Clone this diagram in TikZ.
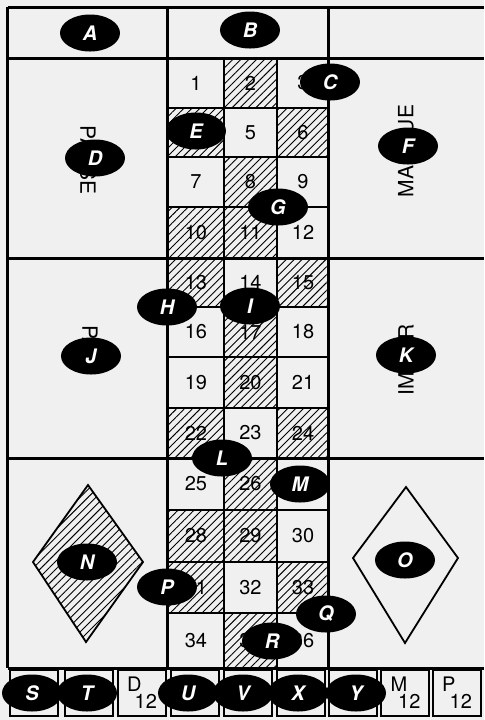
\documentclass[tikz,border=0pt]{standalone}
\usepackage{fontspec}
\setsansfont{TeX Gyre Heros}
\usetikzlibrary{shapes.geometric,patterns.meta}
\def\rowys{58,108,157,207,258,307,357,408,458,510,562,613,668}
\def\colxs{168,224,277,329}
\begin{document}
\begin{tikzpicture}[x=0.5pt,y=-0.5pt,
  rule/.style={line width=1.5pt},
  thinrule/.style={line width=0.9pt},
  hatch/.style={pattern={Lines[angle=45,distance=2.8pt,line width=0.45pt]}},
  num/.style={font=\sffamily\fontsize{10}{10}\selectfont},
  chance/.style={font=\sffamily\fontsize{10.5}{11}\selectfont},
  boxx/.style={draw,line width=1pt,minimum width=24pt,minimum height=23pt,inner sep=0pt},
  chip/.style={ellipse,fill=black,text=white,minimum width=30pt,minimum height=18.5pt,inner sep=0pt,
    font=\sffamily\bfseries\itshape\fontsize{10}{10}\selectfont}]
\useasboundingbox (0,0) rectangle (484,720);
\fill[black!6] (0,0) rectangle (484,720);
% black numbers hatched
\foreach \n in {2,4,6,8,10,11,13,15,17,20,22,24,26,28,29,31,33,35}{
  \pgfmathtruncatemacro\r{(\n-1)/3}
  \pgfmathtruncatemacro\c{\n-1-3*\r}
  \pgfmathsetmacro\xa{{\colxs}[\c]}
  \pgfmathsetmacro\xb{{\colxs}[\c+1]}
  \pgfmathsetmacro\ya{{\rowys}[\r]}
  \pgfmathsetmacro\yb{{\rowys}[\r+1]}
  \path[hatch] (\xa,\ya) rectangle (\xb,\yb);}
% grid of numbers (4 and 27 lie under chips E and M)
\foreach \y in {108,157,207,307,357,408,510,562,613}{\draw[thinrule] (168,\y) -- (329,\y);}
\draw[thinrule] (224,58) -- (224,668);
\draw[thinrule] (277,58) -- (277,668);
\foreach \n in {1,2,3,5,6,7,8,9,10,11,12,13,14,15,16,17,18,19,20,21,22,23,24,25,26,28,29,30,31,32,33,34,35,36}{
  \pgfmathtruncatemacro\r{(\n-1)/3}
  \pgfmathtruncatemacro\c{\n-1-3*\r}
  \pgfmathsetmacro\xa{{\colxs}[\c]}
  \pgfmathsetmacro\xb{{\colxs}[\c+1]}
  \pgfmathsetmacro\ya{{\rowys}[\r]}
  \pgfmathsetmacro\yb{{\rowys}[\r+1]}
  \node[num] (n\n) at ({(\xa+\xb)/2},{(\ya+\yb)/2}) {\n};}
% frame
\foreach \y in {7,58,258,458,668}{\draw[rule] (8,\y) -- (484,\y);}
\foreach \x in {8,168,329}{\draw[rule] (\x,7) -- (\x,668);}
% simple chances
\node[chance,rotate=-90] (passe) at (88,160) {PASSE};
\node[chance,rotate=90] (manque) at (406,151) {MANQUE};
\node[chance,rotate=-90] (pair) at (90,349) {PAIR};
\node[chance,rotate=90] (impair) at (406,360) {IMPAIR};
\draw[thinrule,hatch] (33,562) -- (88,485) -- (143,562) -- (86,642) -- cycle;
\draw[thinrule] (353,558) -- (406,487) -- (458,558) -- (405,643) -- cycle;
% dozens and columns
\foreach \i/\x in {1/34,2/89,3/142,4/195.5,5/248.5,6/301.5,7/353.5,8/405.5,9/457}{
  \node[boxx] (box\i) at (\x,693) {};}
\node[num,anchor=north west] (d1) at ([shift={(3,1)}]box3.north west) {D};
\node[num,anchor=south east] (d2) at ([shift={(-3,-1)}]box3.south east) {12};
\node[num,anchor=north west] (m1) at ([shift={(3,1)}]box8.north west) {M};
\node[num,anchor=south east] (m2) at ([shift={(-3,-1)}]box8.south east) {12};
\node[num,anchor=north west] (p1) at ([shift={(3,1)}]box9.north west) {P};
\node[num,anchor=south east] (p2) at ([shift={(-3,-1)}]box9.south east) {12};
% chips
\foreach \l/\x/\y in {A/90/33,B/250/30,C/330/82,D/95/158,E/196/131,F/408/146,G/278/207,
  H/167/307,I/250/306,J/91/356,K/406/355,L/222/458,M/300/484,N/87/562,O/405/560,
  P/167/587,Q/326/614,R/272/641,S/32/693,T/87/693,U/188/693,V/243/693,X/298/693,Y/356/693}{
  \node[chip] (\l) at (\x,\y) {\l};}
\end{tikzpicture}
\end{document}
